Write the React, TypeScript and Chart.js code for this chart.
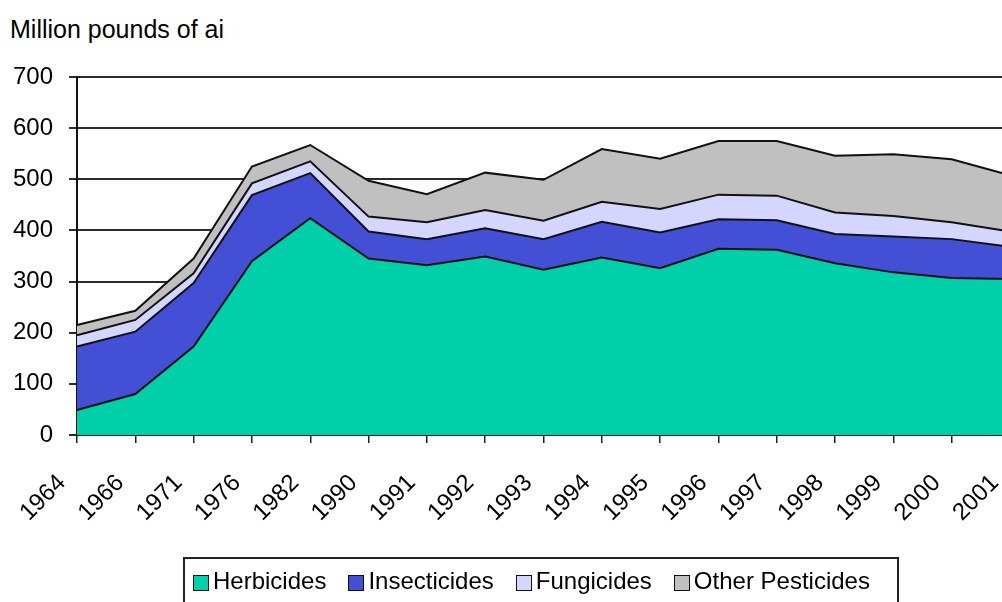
import React, { useEffect, useRef } from "react";
import { Chart, registerables } from "chart.js";

Chart.register(...registerables);

const years = ["1964", "1966", "1971", "1976", "1982", "1990", "1991", "1992", "1993", "1994", "1995", "1996", "1997", "1998", "1999", "2000", "2001"];
const herbicides = [49, 80, 173, 340, 424, 345, 332, 349, 323, 347, 326, 364, 362, 336, 318, 307, 305];
const insecticides = [124, 122, 124, 129, 88, 53, 51, 55, 60, 70, 70, 58, 58, 57, 70, 76, 63];
const fungicides = [22, 23, 19, 23, 23, 29, 33, 36, 36, 39, 46, 48, 48, 42, 40, 33, 30];
const otherPesticides = [20, 18, 29, 33, 32, 70, 55, 73, 80, 103, 98, 105, 107, 111, 121, 123, 110];
const seriesNames = ["Herbicides", "Insecticides", "Fungicides", "Other Pesticides"];
const yTicks = [0, 100, 200, 300, 400, 500, 600, 700];
const unitLabel = "Million pounds of ai";

const COLORS = ["#00D0A9", "#434FD4", "#D4D6FD", "#C0C0C0"];
const FONT = "'Liberation Sans', Arial, sans-serif";

export default function App() {
  const canvasRef = useRef<HTMLCanvasElement | null>(null);

  useEffect(() => {
    const canvas = canvasRef.current;
    if (!canvas) return;
    const values = [herbicides, insecticides, fungicides, otherPesticides];
    const chart = new Chart(canvas, {
      type: "line",
      data: {
        labels: years,
        datasets: values.map((v, i) => ({
          label: seriesNames[i],
          data: v,
          backgroundColor: COLORS[i],
          borderColor: "#111",
          borderWidth: 2,
          fill: i === 0 ? "origin" : "-1",
          pointRadius: 0,
          pointHoverRadius: 0,
          tension: 0,
        })),
      },
      options: {
        responsive: false,
        devicePixelRatio: 1,
        animation: false,
        layout: { padding: { top: 77, right: 2, bottom: 0, left: 0 } },
        plugins: {
          legend: { display: false },
          tooltip: { enabled: false },
          title: { display: false },
        },
        scales: {
          x: {
            type: "category",
            offset: false,
            grid: {
              display: true,
              drawOnChartArea: false,
              drawTicks: true,
              tickLength: 8,
              color: "#222",
              lineWidth: 1.5,
            },
            border: { display: true, color: "#111", width: 2 },
            ticks: {
              autoSkip: false,
              maxRotation: 45,
              minRotation: 45,
              padding: 26,
              labelOffset: -15,
              color: "#000",
              font: { family: FONT, size: 24 },
            },
            afterFit: (scale: any) => {
              scale.height = 167;
              scale.paddingLeft = 0;
              scale.paddingRight = 0;
            },
          },
          y: {
            stacked: true,
            min: 0,
            max: 700,
            afterBuildTicks: (scale: any) => {
              scale.ticks = yTicks.map((v) => ({ value: v }));
            },
            grid: {
              display: true,
              drawOnChartArea: true,
              drawTicks: true,
              tickLength: 8,
              color: "#2a2a2a",
              lineWidth: 2,
            },
            border: { display: true, color: "#111", width: 2 },
            ticks: {
              padding: 16,
              color: "#000",
              font: { family: FONT, size: 24 },
            },
            afterFit: (scale: any) => {
              scale.width = 77;
            },
          },
        },
      },
    });
    return () => chart.destroy();
  }, []);

  return (
    <div
      style={{
        position: "fixed",
        left: 0,
        top: 0,
        width: 1002,
        height: 602,
        overflow: "hidden",
        background: "#fff",
        fontFamily: FONT,
      }}
    >
      <div
        style={{
          position: "absolute",
          left: 10,
          top: 17,
          fontSize: 25,
          lineHeight: "25px",
          color: "#000",
          whiteSpace: "nowrap",
        }}
      >
        {unitLabel}
      </div>
      <canvas
        ref={canvasRef}
        width={1012}
        height={602}
        style={{ position: "absolute", left: 0, top: 0, width: 1012, height: 602 }}
      />
      <div
        style={{
          position: "absolute",
          left: 183,
          top: 557,
          width: 716,
          height: 70,
          boxSizing: "border-box",
          border: "2px solid #222",
          paddingTop: 10,
          paddingLeft: 8,
        }}
      >
        <div style={{ display: "flex", alignItems: "center", height: 24 }}>
          {seriesNames.map((name, i) => (
            <div key={name} style={{ display: "flex", alignItems: "center", marginRight: i < seriesNames.length - 1 ? 22 : 0 }}>
              <span
                style={{
                  display: "inline-block",
                  width: 14,
                  height: 14,
                  boxSizing: "content-box",
                  border: "1.5px solid #111",
                  background: COLORS[i],
                  marginRight: 4,
                  marginTop: 3,
                }}
              />
              <span style={{ fontSize: 24, lineHeight: "24px", color: "#000", whiteSpace: "nowrap" }}>{name}</span>
            </div>
          ))}
        </div>
      </div>
    </div>
  );
}
